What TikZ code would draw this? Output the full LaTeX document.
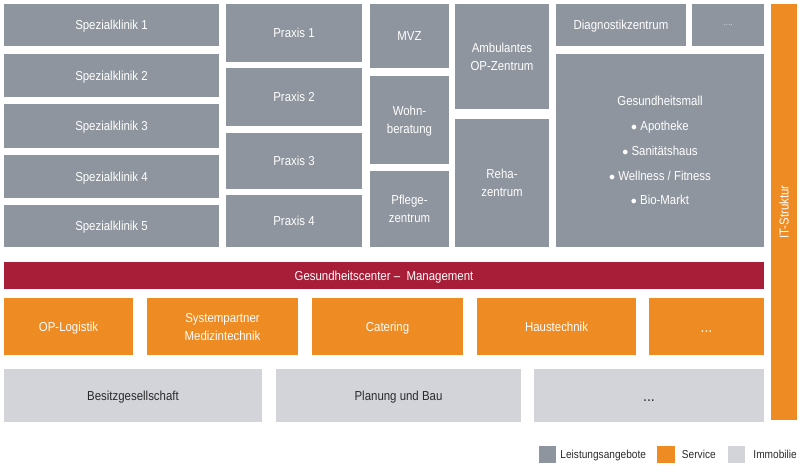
\documentclass[tikz,border=0pt]{standalone}
\usepackage{fontspec}
\setmainfont{Liberation Sans}[FakeStretch=0.88]
\definecolor{lgc}{HTML}{8E959E}
\definecolor{orc}{HTML}{EE8B23}
\definecolor{rdc}{HTML}{A81E38}
\definecolor{imc}{HTML}{D2D4DA}
\definecolor{txd}{HTML}{2A2A2A}
\tikzset{
  base/.style={inner sep=0pt, outer sep=0pt, align=center, text depth=0pt, font=\fontsize{13}{18}\selectfont},
  lgbox/.style={base, fill=lgc, text=white},
  orbox/.style={base, fill=orc, text=white},
  rdbox/.style={base, fill=rdc, text=white},
  imbox/.style={base, fill=imc, text=txd},
  legsq/.style={inner sep=0pt, outer sep=0pt, minimum width=17.5pt, minimum height=17pt},
  legtxt/.style={anchor=west, inner sep=0pt, text depth=0pt, text=txd, font=\fontsize{11.5}{13}\selectfont}
}
% #1 style, #2 name, #3 x1, #4 y1, #5 x2, #6 y2, #7 text
\newcommand\blkbox[7]{\node[#1, minimum width={#5-#3}, minimum height={#6-#4}] (#2) at ({(#3+#5)/2},{(#4+#6)/2}) {#7};}
\begin{document}
\begin{tikzpicture}[x=1pt,y=-1pt]
\useasboundingbox (0,0) rectangle (800,470);
% Spezialkliniken
\blkbox{lgbox}{sk1}{4}{4}{219}{46}{Spezialklinik 1}
\blkbox{lgbox}{sk2}{4}{54}{219}{97}{Spezialklinik 2}
\blkbox{lgbox}{sk3}{4}{104}{219}{148}{Spezialklinik 3}
\blkbox{lgbox}{sk4}{4}{155}{219}{198}{Spezialklinik 4}
\blkbox{lgbox}{sk5}{4}{205}{219}{247}{Spezialklinik 5}
% Praxen
\blkbox{lgbox}{p1}{226}{4}{362}{62}{Praxis 1}
\blkbox{lgbox}{p2}{226}{68}{362}{126}{Praxis 2}
\blkbox{lgbox}{p3}{226}{133}{362}{189}{Praxis 3}
\blkbox{lgbox}{p4}{226}{195}{362}{247}{Praxis 4}
% MVZ column
\blkbox{lgbox}{mvz}{370}{4}{449}{68}{MVZ}
\blkbox{lgbox}{wohn}{370}{76}{449}{164}{Wohn-\\beratung}
\blkbox{lgbox}{pflege}{370}{171}{449}{247}{Pflege-\\zentrum}
% Ambulantes / Reha
\blkbox{lgbox}{amb}{455}{4}{549}{109}{Ambulantes\\OP-Zentrum}
\blkbox{lgbox}{reha}{455}{119}{549}{247}{Reha-\\zentrum}
% Diagnostik, dots, Mall
\blkbox{lgbox}{diag}{556}{4}{686}{46}{Diagnostikzentrum}
\blkbox{lgbox, text=imc, font=\fontsize{10}{12}\selectfont}{dots1}{692}{4}{764}{46}{....}
\blkbox{lgbox, font=\fontsize{13}{24.8}\selectfont}{mall}{556}{54}{764}{247}{Gesundheitsmall\\$\bullet$ Apotheke\\$\bullet$ Sanitätshaus\\$\bullet$ Wellness / Fitness\\$\bullet$ Bio-Markt}
% IT bar
\blkbox{orbox}{it}{771}{4}{797}{420}{}
\node[base, text=white, rotate=90] (ittxt) at (it.center) {IT-Struktur};
% Management
\blkbox{rdbox}{mgmt}{4}{262}{764}{289}{Gesundheitscenter --\ \ Management}
% Service row
\blkbox{orbox}{s1}{4}{298}{133}{355}{OP-Logistik}
\blkbox{orbox}{s2}{147}{298}{298}{355}{Systempartner\\Medizintechnik}
\blkbox{orbox}{s3}{312}{298}{463}{355}{Catering}
\blkbox{orbox}{s4}{477}{298}{636}{355}{Haustechnik}
\blkbox{orbox, font=\fontsize{16}{18}\selectfont}{s5}{649}{298}{764}{355}{\raisebox{-6pt}{...}}
% Immobilie row
\blkbox{imbox}{i1}{4}{369}{262}{422}{Besitzgesellschaft}
\blkbox{imbox}{i2}{276}{369}{521}{422}{Planung und Bau}
\blkbox{imbox, font=\fontsize{16}{18}\selectfont}{i3}{534}{369}{764}{422}{\raisebox{-6pt}{...}}
% Legend
\node[legsq, fill=lgc] (lg1) at (547.5,454.5) {};
\node[legtxt] (lt1) at ([xshift=4pt]lg1.east) {Leistungsangebote};
\node[legsq, fill=orc] (lg2) at (666,454.5) {};
\node[legtxt] (lt2) at ([xshift=7pt]lg2.east) {Service};
\node[legsq, fill=imc] (lg3) at (736.5,454.5) {};
\node[legtxt] (lt3) at ([xshift=8pt]lg3.east) {Immobilie};
\end{tikzpicture}
\end{document}
